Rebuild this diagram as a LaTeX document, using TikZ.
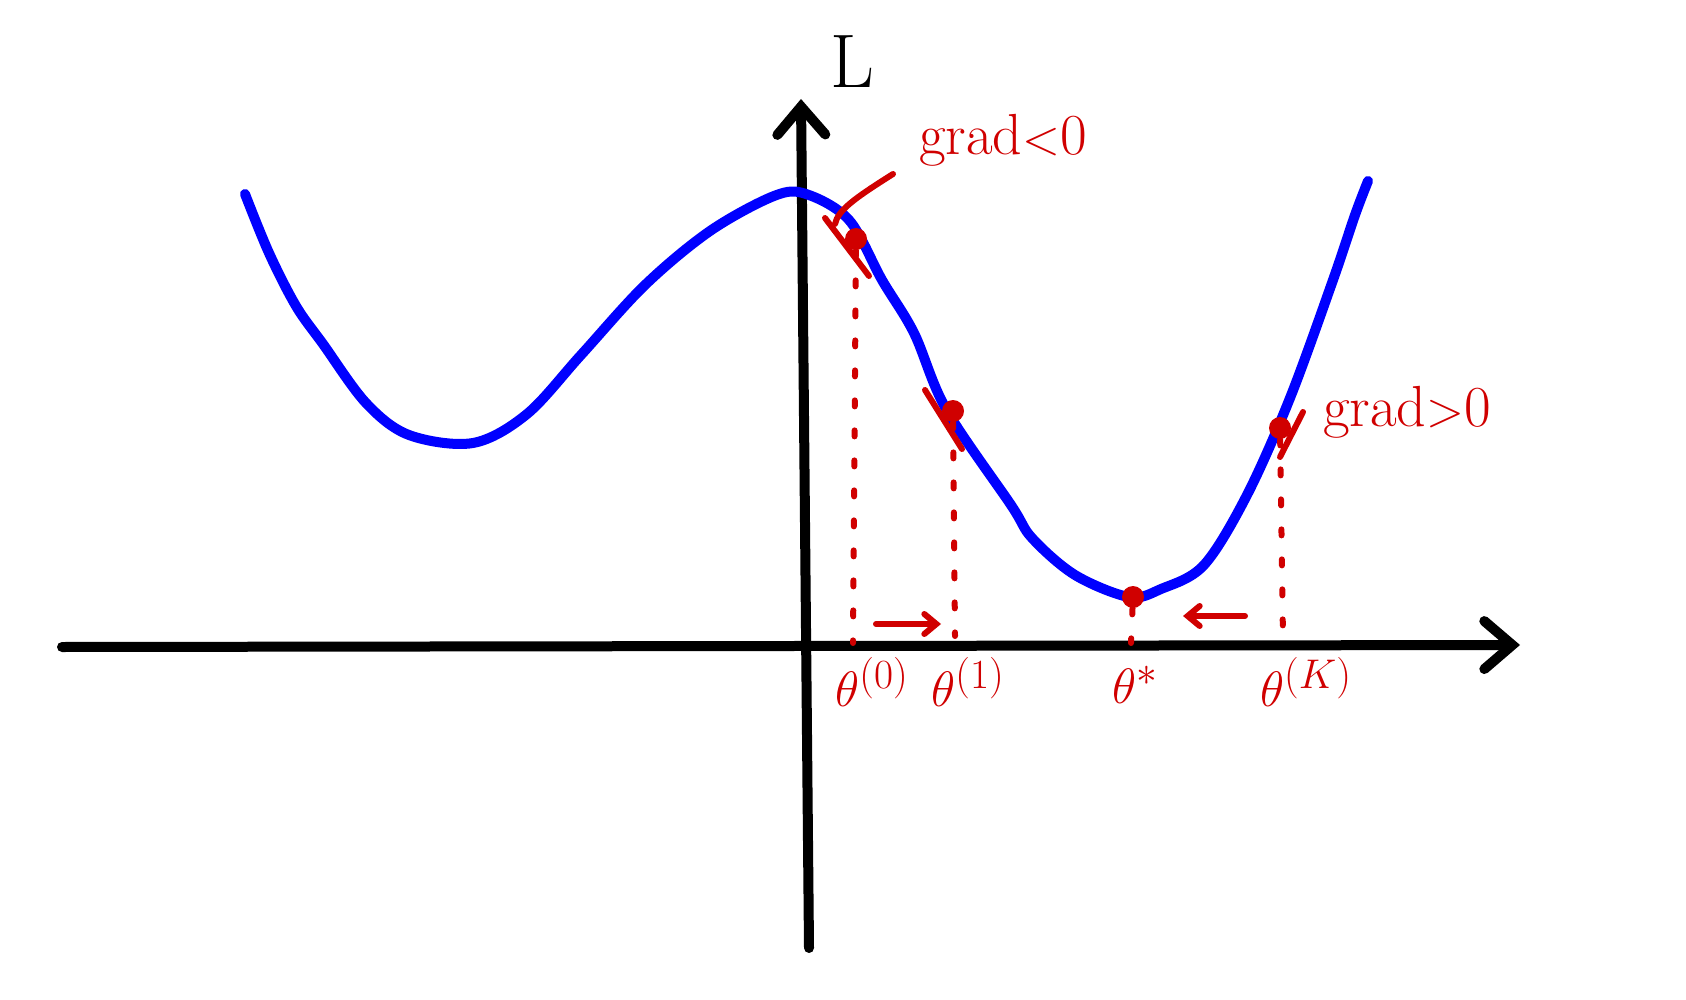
\documentclass[tikz,border=0pt]{standalone}
\usetikzlibrary{arrows.meta}
\definecolor{lossblue}{HTML}{0000FF}
\definecolor{gradred}{HTML}{D00000}

\begin{document}
\begin{tikzpicture}[
    x=0.5pt, y=-0.5pt,
    axis/.style={line width=5pt, line cap=round, -{Straight Barb[length=14pt, width=24pt, line cap=round]}},
    losscurve/.style={line width=5pt, draw=lossblue, line cap=round, line join=round},
    pt/.style={circle, fill=gradred, inner sep=0pt, minimum size=11pt},
    tangent/.style={line width=3pt, draw=gradred, line cap=round},
    drop/.style={line width=3pt, draw=gradred, line cap=round, dash pattern=on 3pt off 12pt},
    move/.style={line width=3pt, draw=gradred, line cap=round, -{Straight Barb[length=6pt, width=10pt, line cap=round]}},
    gradlabel/.style={text=gradred, font=\fontsize{29}{32}\selectfont, inner sep=0pt},
    thetalabel/.style={text=gradred, font=\fontsize{30}{36}\selectfont, inner sep=0pt}
  ]
    \useasboundingbox (0,0) rectangle (1686,1000);

    \coordinate (xstart) at (62,647);
    \coordinate (xend) at (1520,645);
    \coordinate (ystart) at (809,948);
    \coordinate (yend) at (801,99);
    \draw[axis] (xstart) -- (xend);
    \draw[axis] (ystart) -- (yend);
    \node[font=\fontsize{38}{40}\selectfont, inner sep=0pt] (losslabel) at (852,62) {L};

    \draw[losscurve] plot[smooth, tension=0.55] coordinates {
      (245,194) (269,253) (296,306) (323,344) (366,403) (409,435) (473,443)
      (527,414) (581,355) (645,285) (710,231) (774,196) (806,194) (849,220)
      (882,280) (914,333) (946,409) (1011,505) (1032,538) (1075,575)
      (1129,597) (1161,589) (1204,565) (1247,495) (1290,398) (1333,280)
      (1355,215) (1368,181)};

    \node[pt] (p0) at (856,239) {};
    \node[pt] (p1) at (953,411) {};
    \node[pt] (pstar) at (1133,597) {};
    \node[pt] (pk) at (1280,428) {};

    \coordinate (t0) at (853,643);
    \coordinate (t1) at (955,636);
    \coordinate (tstar) at (1131,643);
    \coordinate (tk) at (1283,640);
    \draw[drop] (p0) -- (t0);
    \draw[drop] (p1) -- (t1);
    \draw[drop] (pstar) -- (tstar);
    \draw[drop] (pk) -- (tk);

    \coordinate (g0a) at (825,218);
    \coordinate (g0b) at (869,276);
    \coordinate (g1a) at (925,390);
    \coordinate (g1b) at (962,449);
    \coordinate (gka) at (1303,412);
    \coordinate (gkb) at (1280,457);
    \draw[tangent] (g0a) -- (g0b);
    \draw[tangent] (g1a) -- (g1b);
    \draw[tangent] (gka) -- (gkb);

    \node[gradlabel] (gradneg) at (1003,140) {grad$<$0};
    \node[gradlabel] (gradpos) at (1407,412) {grad$>$0};
    \coordinate (leadstart) at (893,174);
    \coordinate (leadend) at (835,224);
    \draw[tangent] (leadstart) .. controls (855,198) and (838,210) .. (leadend);

    \node[thetalabel] (theta0) at (872,682) {$\theta^{(0)}$};
    \node[thetalabel] (theta1) at (968,682) {$\theta^{(1)}$};
    \node[thetalabel] (thetastar) at (1135,685) {$\theta^{*}$};
    \node[thetalabel] (thetak) at (1306,682) {$\theta^{(K)}$};

    \coordinate (rightfrom) at (876,624);
    \coordinate (rightto) at (941,624);
    \coordinate (leftfrom) at (1245,616);
    \coordinate (leftto) at (1183,616);
    \draw[move] (rightfrom) -- (rightto);
    \draw[move] (leftfrom) -- (leftto);
\end{tikzpicture}
\end{document}
